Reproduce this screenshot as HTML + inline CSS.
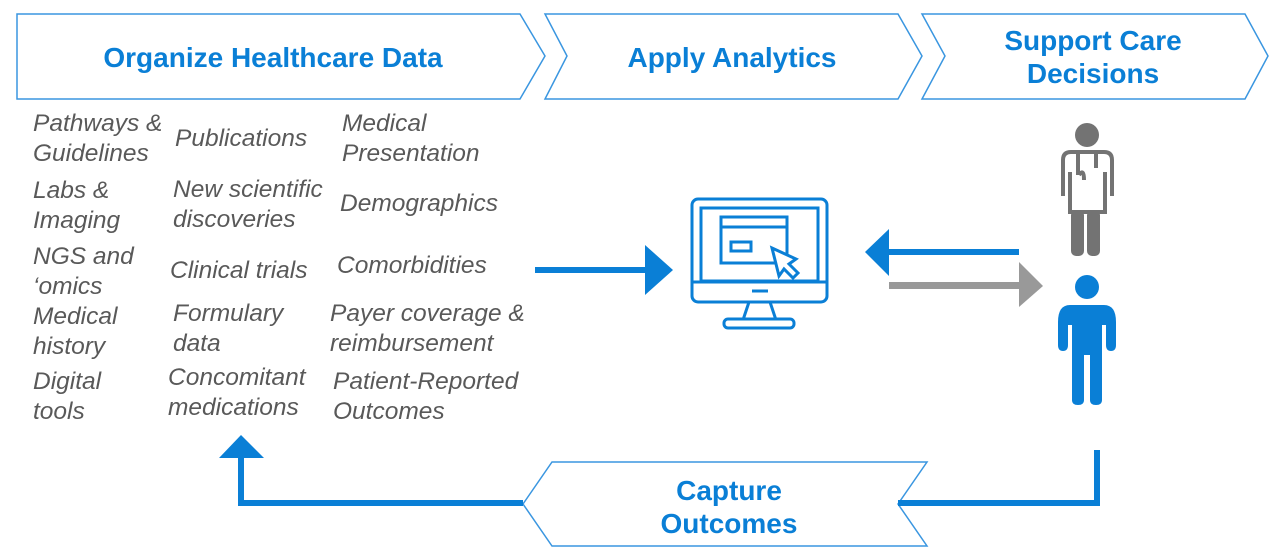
<!DOCTYPE html>
<html><head><meta charset="utf-8"><style>
html,body{margin:0;padding:0;background:#fff;}
svg{display:block;}
.h{font-family:"Liberation Sans",sans-serif;font-weight:bold;fill:#0a7fd6;font-size:28px;}
.t{font-family:"Liberation Sans",sans-serif;font-style:italic;fill:#595959;font-size:24.5px;}
</style></head><body>
<svg width="1273" height="557" viewBox="0 0 1273 557" xmlns="http://www.w3.org/2000/svg">
<g fill="#fff" stroke="#3a96e0" stroke-width="1.5">
<polygon points="17,14 520,14 545,56 520,99 17,99"/>
<polygon points="545,14 898,14 922,56 898,99 545,99 567,56"/>
<polygon points="922,14 1245,14 1268,56 1245,99 922,99 945,56"/>
<polygon points="523,504 552,462 927,462 898,504 927,546 552,546"/>
</g>
<text class="h" x="273" y="67" text-anchor="middle">Organize Healthcare Data</text>
<text class="h" x="732" y="67" text-anchor="middle">Apply Analytics</text>
<text class="h" x="1093" y="50" text-anchor="middle">Support Care</text>
<text class="h" x="1093" y="83" text-anchor="middle">Decisions</text>
<text class="h" x="729" y="500" text-anchor="middle">Capture</text>
<text class="h" x="729" y="533" text-anchor="middle">Outcomes</text>

<g class="t">
<text x="33" y="131">Pathways &amp;</text><text x="33" y="161">Guidelines</text>
<text x="33" y="198">Labs &amp;</text><text x="33" y="228">Imaging</text>
<text x="33" y="264">NGS and</text><text x="33" y="294">‘omics</text>
<text x="33" y="324">Medical</text><text x="33" y="354">history</text>
<text x="33" y="389">Digital</text><text x="33" y="419">tools</text>
<text x="175" y="146">Publications</text>
<text x="173" y="197">New scientific</text><text x="173" y="227">discoveries</text>
<text x="170" y="278">Clinical trials</text>
<text x="173" y="321">Formulary</text><text x="173" y="351">data</text>
<text x="168" y="385">Concomitant</text><text x="168" y="415">medications</text>
<text x="342" y="131">Medical</text><text x="342" y="161">Presentation</text>
<text x="340" y="211">Demographics</text>
<text x="337" y="273">Comorbidities</text>
<text x="330" y="321">Payer coverage &amp;</text><text x="330" y="351">reimbursement</text>
<text x="333" y="389">Patient-Reported</text><text x="333" y="419">Outcomes</text>
</g>

<rect x="535" y="267" width="112" height="6" fill="#0a7fd6"/>
<polygon points="645,245 673,270 645,295" fill="#0a7fd6"/>

<g fill="none" stroke="#0a7fd6" stroke-width="3">
<rect x="692" y="199" width="135" height="103" rx="6"/>
<rect x="701" y="208" width="117" height="73"/>
<line x1="692" y1="282" x2="827" y2="282"/>
<rect x="721" y="217" width="66" height="46"/>
<line x1="721" y1="227" x2="787" y2="227"/>
<rect x="731" y="242" width="20" height="9"/>
<path d="M749,302 L743,320 M770,302 L776,320"/>
<rect x="724" y="319" width="70" height="9" rx="4"/>
<line x1="752" y1="291" x2="768" y2="291"/>
</g>
<polygon points="772,248 796,259 789,264 798,273 793,278 784,269 779,276" fill="#fff" stroke="#0a7fd6" stroke-width="3"/>

<rect x="888" y="249" width="131" height="6" fill="#0a7fd6"/>
<polygon points="865,252 889,229 889,276" fill="#0a7fd6"/>
<rect x="889" y="282" width="132" height="7" fill="#999"/>
<polygon points="1019,262 1043,286 1019,307" fill="#999"/>

<g fill="#737373">
<circle cx="1087" cy="135" r="12"/>
<rect x="1071" y="210" width="13" height="46" rx="5"/>
<rect x="1087" y="210" width="13" height="46" rx="5"/>
</g>
<g fill="none" stroke="#737373" stroke-width="4">
<path d="M1063,196 V160 Q1063,152 1071,152 H1104 Q1112,152 1112,160 V196"/>
<path d="M1070,172 V212 H1105 V172"/>
<path d="M1078,152 V175 M1096,152 V168 M1079,175 Q1084,168 1084,180"/>
</g>

<g fill="#0a7fd6">
<circle cx="1087" cy="287" r="12"/>
<path d="M1070,305 Q1058,305 1058,322 V345 Q1058,351 1063,351 Q1068,351 1068,345 V325 H1072 V400 Q1072,405 1078,405 Q1084,405 1084,400 V355 H1090 V400 Q1090,405 1096,405 Q1102,405 1102,400 V325 H1106 V345 Q1106,351 1111,351 Q1116,351 1116,345 V322 Q1116,305 1104,305 Z"/>
</g>

<g fill="none" stroke="#0a7fd6" stroke-width="6">
<polyline points="1097,450 1097,503 898,503"/>
<polyline points="523,503 241,503 241,455"/>
</g>
<polygon points="219,458 241,435 264,458" fill="#0a7fd6"/>
</svg>
</body></html>
